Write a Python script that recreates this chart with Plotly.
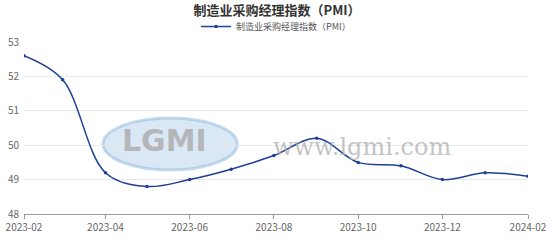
import plotly.graph_objects as go

months = ["2023-02-01", "2023-03-01", "2023-04-01", "2023-05-01", "2023-06-01", "2023-07-01",
          "2023-08-01", "2023-09-01", "2023-10-01", "2023-11-01", "2023-12-01", "2024-01-01", "2024-02-01"]
pmi = [52.6, 51.9, 49.2, 48.8, 49.0, 49.3, 49.7, 50.2, 49.5, 49.4, 49.0, 49.2, 49.1]
series_name = "制造业采购经理指数（PMI）"
title_text = "制造业采购经理指数（PMI）"

font_family = "Noto Sans CJK SC, Noto Sans, sans-serif"

fig = go.Figure()
fig.add_trace(go.Scatter(
    x=months, y=pmi, name=series_name, mode="lines+markers",
    line=dict(color="#1e3f94", width=1.5, shape="spline", smoothing=1.0),
    marker=dict(size=3.5, color="#1e3f94"),
))

# watermark
fig.add_shape(type="circle", xref="paper", yref="paper", x0=0.157, x1=0.423, y0=0.256, y1=0.558,
              fillcolor="rgba(150,185,225,0.35)", line=dict(color="rgba(150,185,225,0.55)", width=3),
              layer="below")
fig.add_annotation(xref="paper", yref="paper", x=0.19, xanchor="left", y=0.43, text="<b>LGMI</b>",
                   showarrow=False,
                   font=dict(family="DejaVu Sans, sans-serif", size=30, color="rgba(170,170,170,0.8)"))
fig.add_annotation(xref="paper", yref="paper", x=0.49, xanchor="left", y=0.39, text="www.lgmi.com",
                   showarrow=False,
                   font=dict(family="DejaVu Serif, serif", size=24, color="rgba(175,175,175,0.75)"))

fig.update_layout(
    width=554, height=241,
    margin=dict(l=24, r=26, t=42, b=27, autoexpand=False),
    paper_bgcolor="white", plot_bgcolor="white",
    font=dict(family=font_family, color="#666", size=9),
    title=dict(text="<b>" + title_text + "</b>", x=0.5, xanchor="center", y=0.955, yanchor="middle",
               font=dict(size=13, color="#333", family=font_family)),
    showlegend=True,
    legend=dict(orientation="h", x=0.5, xanchor="center", y=1.09, yanchor="middle",
                font=dict(size=9, color="#555"), bgcolor="rgba(0,0,0,0)"),
    xaxis=dict(type="date", range=["2023-02-01", "2024-02-01"], dtick="M2", tick0="2023-02-01",
               tickformat="%Y-%m", showgrid=False, showline=True, linecolor="#999", linewidth=1,
               ticks="outside", ticklen=4, tickcolor="#999", tickfont=dict(size=10, color="#666"),
               zeroline=False, automargin=False),
    yaxis=dict(range=[48, 53], dtick=1, showgrid=True, gridcolor="#e6e9ef", gridwidth=1,
               zeroline=False, showline=False, tickfont=dict(size=10, color="#666"), ticks="",
               ticklabelstandoff=4, automargin=False),
)

fig.write_html("out.html")
